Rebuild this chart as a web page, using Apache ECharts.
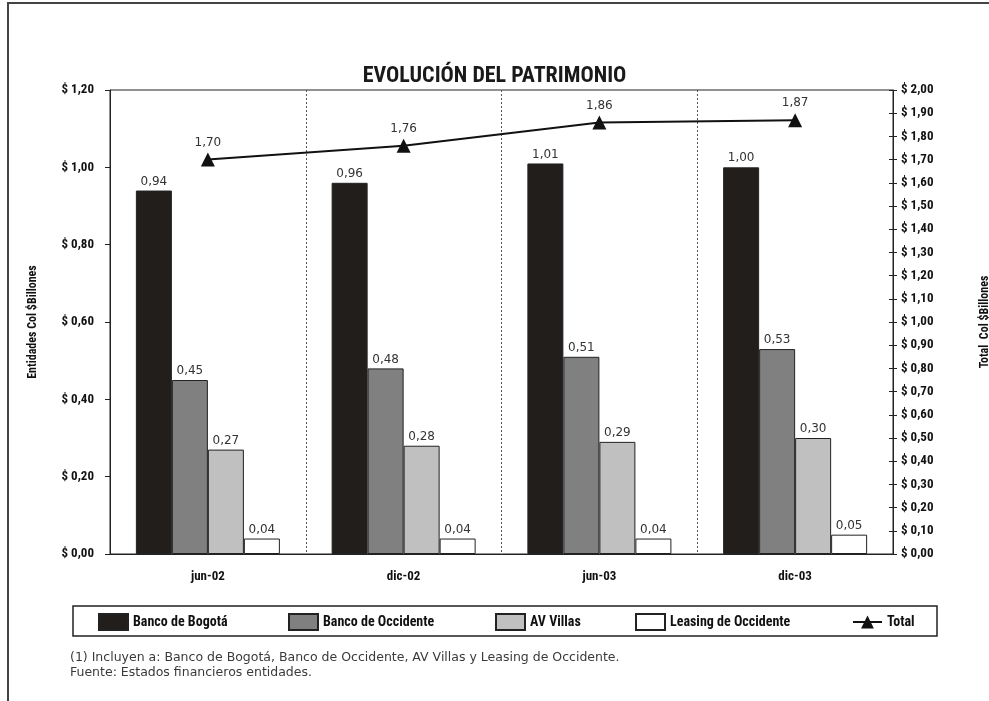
<!DOCTYPE html>
<html><head><meta charset="utf-8">
<script src="https://cdn.jsdelivr.net/npm/echarts@6/dist/echarts.min.js"></script>
<style>html,body{margin:0;padding:0;background:#fff}#c{width:989px;height:701px}</style>
</head><body><div id="c"></div>
<script>
var categories = ['jun-02', 'dic-02', 'jun-03', 'dic-03'];
var bogota = [0.94, 0.96, 1.01, 1.00];
var occidente = [0.45, 0.48, 0.51, 0.53];
var avVillas = [0.27, 0.28, 0.29, 0.30];
var leasing = [0.04, 0.04, 0.04, 0.05];
var total = [1.70, 1.76, 1.86, 1.87];
var seriesNames = ['Banco de Bogotá', 'Banco de Occidente', 'AV Villas', 'Leasing de Occidente', 'Total'];
var title = 'EVOLUCIÓN DEL PATRIMONIO';
var footnotes = ['(1) Incluyen a: Banco de Bogotá, Banco de Occidente, AV Villas y Leasing de Occidente.', 'Fuente: Estados financieros entidades.'];

var COND = "'Roboto Condensed','Liberation Sans Narrow',sans-serif";
var LIGHT = "'DejaVu Sans','Noto Sans',sans-serif";
function fmt(v){ return v.toFixed(2).replace('.', ','); }
function money(v){ return '$ ' + fmt(v); }

var chart = echarts.init(document.getElementById('c'));
function barSeries(name, data, color){
  return {
    name: name, type: 'bar', data: data, yAxisIndex: 0,
    barWidth: 36, barGap: '0%',
    itemStyle: {color: color, borderColor: '#222', borderWidth: 1},
    label: {show: true, position: 'top', distance: 3, formatter: function(p){return fmt(p.value);},
      fontFamily: LIGHT, fontSize: 12, color: '#333'}
  };
}
var legendLefts = [98, 288, 495, 635, 852];
var legends = seriesNames.map(function(n, i){
  return {
    data: [i < 4 ? {name: n, icon: 'rect'} : {name: n}],
    left: legendLefts[i], top: i < 4 ? 613 : 615, padding: 0, itemWidth: 29, itemHeight: 16,
    textStyle: {fontFamily: COND, fontWeight: 'bold', fontSize: 14, color: '#111'}
  };
});
chart.setOption({
  animation: false,
  title: {text: title, left: 'center', top: 60, textStyle: {fontFamily: COND, fontWeight: 'bold', fontSize: 22, color: '#1a1a1a'}},
  grid: {left: 110, right: 96, top: 90, bottom: 147, show: true, borderColor: '#222', borderWidth: 1,
    containLabel: false, outerBoundsMode: 'none'},
  legend: legends,
  xAxis: {
    type: 'category', data: categories,
    axisLine: {lineStyle: {color: '#222'}},
    axisTick: {show: false},
    axisLabel: {fontFamily: COND, fontWeight: 'bold', fontSize: 13, color: '#111', margin: 16},
    splitLine: {show: true, lineStyle: {type: [2, 2], color: '#555'}}
  },
  yAxis: [{
    type: 'value', min: 0, max: 1.2, interval: 0.2, position: 'left',
    name: 'Entidades Col $Billones', nameLocation: 'middle', nameRotate: 90, nameGap: 71,
    nameTextStyle: {fontFamily: COND, fontWeight: 'bold', fontSize: 12, color: '#111'},
    axisLine: {show: true, lineStyle: {color: '#222'}},
    axisTick: {show: true, length: 5, lineStyle: {color: '#222'}},
    axisLabel: {formatter: money, fontFamily: COND, fontWeight: 'bold', fontSize: 13, color: '#111', margin: 16},
    splitLine: {show: false}
  }, {
    type: 'value', min: 0, max: 2, interval: 0.1, position: 'right',
    name: 'Total  Col $Billones', nameLocation: 'middle', nameRotate: 90, nameGap: 86,
    nameTextStyle: {fontFamily: COND, fontWeight: 'bold', fontSize: 12, color: '#111'},
    axisLine: {show: true, lineStyle: {color: '#222'}},
    axisTick: {show: true, length: 4, lineStyle: {color: '#222'}},
    axisLabel: {formatter: money, fontFamily: COND, fontWeight: 'bold', fontSize: 13, color: '#111', margin: 8},
    splitLine: {show: false}
  }, {
    type: 'value', min: 0, max: 2, interval: 0.1, position: 'right',
    axisLine: {show: false},
    axisTick: {show: true, inside: true, length: 4, lineStyle: {color: '#222'}},
    axisLabel: {show: false},
    splitLine: {show: false}
  }],
  series: [
    barSeries(seriesNames[0], bogota, '#221e1b'),
    barSeries(seriesNames[1], occidente, '#808080'),
    barSeries(seriesNames[2], avVillas, '#c0c0c0'),
    barSeries(seriesNames[3], leasing, '#ffffff'),
    {
      name: seriesNames[4], type: 'line', yAxisIndex: 1, data: total,
      symbol: 'triangle', symbolSize: 14,
      lineStyle: {color: '#111', width: 2}, itemStyle: {color: '#111'},
      label: {show: true, position: 'top', distance: 4, formatter: function(p){return fmt(p.value);},
        fontFamily: LIGHT, fontSize: 12, color: '#333'}
    }
  ],
  graphic: [
    {type: 'rect', shape: {x: 8, y: 3, width: 1000, height: 720}, style: {fill: 'none', stroke: '#444', lineWidth: 2}, silent: true},
    {type: 'rect', z: -1, shape: {x: 73, y: 606, width: 864, height: 30}, style: {fill: 'none', stroke: '#222', lineWidth: 1.5}, silent: true},
    {type: 'text', left: 70, top: 651, style: {text: footnotes[0], fontFamily: LIGHT, fontSize: 12.5, fill: '#3a3a3a'}},
    {type: 'text', left: 70, top: 666, style: {text: footnotes[1], fontFamily: LIGHT, fontSize: 12.5, fill: '#3a3a3a'}}
  ]
});
</script></body></html>
